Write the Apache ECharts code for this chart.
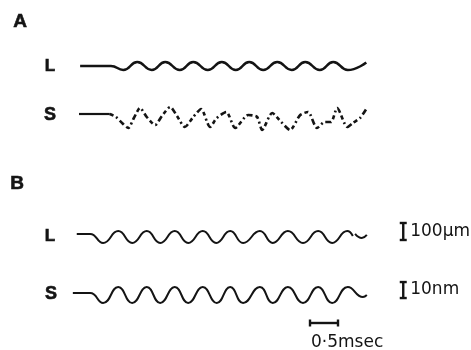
<!DOCTYPE html>
<html>
<head>
<meta charset="utf-8">
<script src="https://cdn.jsdelivr.net/npm/echarts@6/dist/echarts.min.js"></script>
<style>
  html, body { margin: 0; padding: 0; background: #fff; }
  #chart { width: 471px; height: 350px; }
</style>
</head>
<body>
<div id="chart"></div>
<script>
// time in msec (0 = start of the sweep), amplitudes
// A: relative units, B-L: μm, B-S: nm
const aLTime = [0.02, 0.57, 0.79, 1.04, 1.30, 1.54, 1.80, 2.04, 2.30, 2.55, 2.80, 3.04, 3.29, 3.54, 3.80, 4.04, 4.30, 4.54, 4.80, 5.13]
const aLAmp = [0, 0, -4, 4, -4, 4, -4, 4, -4, 4, -4, 4, -4, 4, -4, 4, -4, 4, -4, 3.5]

const aSBaseTime = [0.0, 0.55]
const aSBaseAmp = [0, 0]
const aSTime = [0.55, 0.66, 0.77, 0.88, 0.98, 1.09, 1.21, 1.36, 1.48, 1.63, 1.75, 1.89, 2.04, 2.18, 2.34, 2.46, 2.63, 2.79, 3.02, 3.18, 3.27, 3.45, 3.61, 3.77, 3.95, 4.09, 4.25, 4.39, 4.50, 4.61, 4.79, 4.89, 5.02, 5.14]
const aSAmp = [0, -3, -9, -14, -4, 6, -3, -11, -2, 7, -2, -13, -3, 5, -13, -4, 2, -14, -1, -3, -16, 1, -8, -16, -1, 2, -14, -8, -8, 6, -13, -9, -4, 6]

const bLTime = [-0.04, 0.20, 0.43, 0.70, 0.95, 1.21, 1.45, 1.71, 1.95, 2.21, 2.45, 2.70, 2.93, 3.23, 3.46, 3.73, 4.00, 4.27, 4.52, 4.79, 4.89, null, 4.93, 5.05, 5.14]
const bLAmp = [18, 18, -35, 35, -35, 35, -35, 35, -35, 35, -35, 35, -35, 35, -35, 35, -35, 35, -35, 35, 6, null, 18, -6, 12]

const bSTime = [-0.11, 0.20, 0.43, 0.70, 0.95, 1.21, 1.45, 1.71, 1.95, 2.21, 2.46, 2.70, 2.93, 3.23, 3.46, 3.73, 4.00, 4.27, 4.52, 4.80, 5.07, 5.14]
const bSAmp = [1.2, 1.2, -5, 5, -5, 5, -5, 5, -5, 5, -5, 5, -5, 5, -5, 5, -5, 5, -5, 5, -1.2, 0]

// calibration bars
const lengthBar = 100 // μm
const nmBar = 10 // nm
const timeBar = 0.5 // msec
const barLabels = ['100μm', '10nm', '0·5msec']

const ink = '#141414'
const textFont = 'DejaVu Sans'

function zip(xs, ys) {
  return xs.map((x, i) => (x === null ? [null, null] : [x, ys[i]]))
}

// vertical I-shaped calibration bar with its label on the right
function renderVBar(params, api) {
  const a = api.coord([api.value(0), api.value(1)])
  const b = api.coord([api.value(0), api.value(2)])
  const w = 3.5
  const st = { stroke: ink, lineWidth: 2.4 }
  return {
    type: 'group',
    children: [
      { type: 'line', shape: { x1: a[0], y1: a[1], x2: b[0], y2: b[1] }, style: st },
      { type: 'line', shape: { x1: a[0] - w, y1: a[1], x2: a[0] + w, y2: a[1] }, style: st },
      { type: 'line', shape: { x1: b[0] - w, y1: b[1], x2: b[0] + w, y2: b[1] }, style: st },
      {
        type: 'text',
        x: a[0] + 7,
        y: (a[1] + b[1]) / 2,
        style: { text: barLabels[api.value(3)], fill: ink, fontSize: 17, fontFamily: textFont, verticalAlign: 'middle' },
      },
    ],
  }
}

// horizontal time bar, label underneath
function renderHBar(params, api) {
  const a = api.coord([api.value(0), api.value(2)])
  const b = api.coord([api.value(1), api.value(2)])
  const h = 3.5
  const st = { stroke: ink, lineWidth: 2.4 }
  return {
    type: 'group',
    children: [
      { type: 'line', shape: { x1: a[0], y1: a[1], x2: b[0], y2: b[1] }, style: st },
      { type: 'line', shape: { x1: a[0], y1: a[1] - h, x2: a[0], y2: a[1] + h }, style: st },
      { type: 'line', shape: { x1: b[0], y1: b[1] - h, x2: b[0], y2: b[1] + h }, style: st },
      {
        type: 'text',
        x: a[0] + 1,
        y: a[1] + 20,
        style: { text: barLabels[2], fill: ink, fontSize: 17, fontFamily: textFont, verticalAlign: 'middle' },
      },
    ],
  }
}

const chart = echarts.init(document.getElementById('chart'))

const grids = [
  { left: 65, right: 0, top: 46, height: 40 },
  { left: 65, right: 0, top: 94, height: 40 },
  { left: 65, right: 0, top: 220, height: 34 },
  { left: 65, right: 0, top: 279, height: 48 },
]
const yRanges = [[-20, 20], [-20, 20], [-100, 100], [-20, 10]]

const letter = (text, x, y, size) => ({
  type: 'text',
  x: x,
  y: y,
  style: {
    text: text,
    fill: ink,
    stroke: ink,
    lineWidth: 0.6,
    fontSize: size,
    fontWeight: 'bold',
    fontFamily: 'Liberation Sans',
    align: 'center',
    verticalAlign: 'middle',
  },
})

const traceLine = (gi, data, width, extra, smooth) => ({
  type: 'line',
  xAxisIndex: gi,
  yAxisIndex: gi,
  data: data,
  smooth: smooth === undefined ? 0.5 : smooth,
  symbol: 'none',
  connectNulls: false,
  silent: true,
  lineStyle: Object.assign({ color: ink, width: width }, extra || {}),
})

chart.setOption({
  animation: false,
  backgroundColor: '#fff',
  grid: grids,
  xAxis: grids.map((g, i) => ({ type: 'value', gridIndex: i, min: -0.25, max: 7, show: false })),
  yAxis: grids.map((g, i) => ({ type: 'value', gridIndex: i, min: yRanges[i][0], max: yRanges[i][1], show: false })),
  graphic: [
    letter('A', 20, 22, 19),
    letter('L', 50, 66, 17),
    letter('S', 50, 115, 18),
    letter('B', 17, 184, 19),
    letter('L', 50, 236, 17),
    letter('S', 51, 294, 18),
  ],
  series: [
    traceLine(0, zip(aLTime, aLAmp), 2.5),
    traceLine(1, zip(aSBaseTime, aSBaseAmp), 2.2),
    traceLine(1, zip(aSTime, aSAmp), 2.6, { type: [4, 3, 2, 3, 6, 3] }, 0.25),
    traceLine(2, zip(bLTime, bLAmp), 2),
    traceLine(3, zip(bSTime, bSAmp), 2),
    {
      type: 'custom',
      xAxisIndex: 2,
      yAxisIndex: 2,
      clip: false,
      silent: true,
      renderItem: renderVBar,
      data: [[5.79, -17.6, -17.6 + lengthBar, 0]],
    },
    {
      type: 'custom',
      xAxisIndex: 3,
      yAxisIndex: 3,
      clip: false,
      silent: true,
      renderItem: renderVBar,
      data: [[5.79, -1.9, -1.9 + nmBar, 1]],
    },
    {
      type: 'custom',
      xAxisIndex: 3,
      yAxisIndex: 3,
      clip: false,
      silent: true,
      renderItem: renderHBar,
      data: [[4.125, 4.125 + timeBar, -17.5]],
    },
  ],
})
</script>
</body>
</html>
